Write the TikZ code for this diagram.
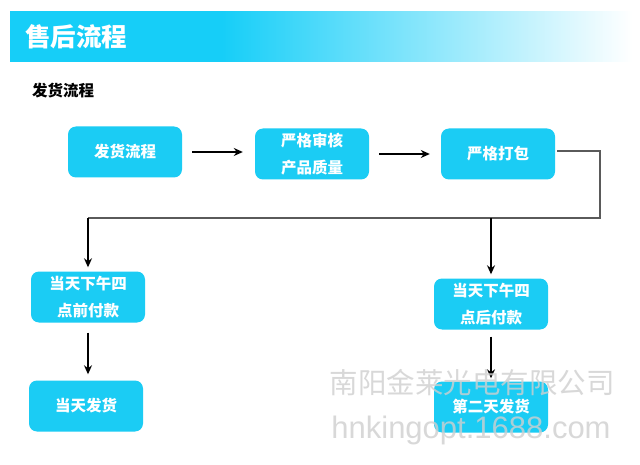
\documentclass[tikz,border=0pt]{standalone}
\usepackage{fontspec}
\setmainfont{Liberation Sans}
\newfontfamily\cjk{Noto Sans CJK SC}
\usetikzlibrary{arrows.meta}
\definecolor{boxcyan}{RGB}{27,204,244}
\definecolor{bancyan}{RGB}{22,206,248}
\definecolor{connline}{RGB}{90,90,90}
\pgfdeclarehorizontalshading{banshade}{100bp}{color(0bp)=(bancyan); color(25bp)=(bancyan); color(42bp)=(bancyan); color(75bp)=(white); color(100bp)=(white)}
\tikzset{
  fbox/.style={fill=boxcyan, rounded corners=8pt, minimum width=114pt, minimum height=51pt,
    inner sep=0pt, text=white, align=center, font=\cjk\bfseries\fontsize{15.5}{27}\selectfont},
  conn/.style={draw=connline, line width=1.2pt},
  arr/.style={draw=black, line width=1.4pt, -{Stealth[length=9pt,width=8pt]}},
  wmark/.style={text=gray!38, opacity=0.8, inner sep=0pt}
}
\begin{document}
\begin{tikzpicture}[x=1pt,y=-1pt]
\useasboundingbox (0,0) rectangle (640,465);
\fill[white] (0,0) rectangle (640,465);
% banner
\path[shading=banshade] (10,12) rectangle (632,62);
\node[anchor=west, text=white, inner sep=0pt, font=\cjk\bfseries\fontsize{25.5}{25}\selectfont] (title) at (25,37) {售后流程};
\node[anchor=west, text=black, inner sep=0pt, font=\cjk\bfseries\fontsize{15.5}{15}\selectfont] (sub) at (32,91) {发货流程};
% boxes
\node[fbox] (b1) at (125,152) {发货流程};
\node[fbox] (b2) at (312,154) {严格审核\\产品质量};
\node[fbox] (b3) at (498,154) {严格打包};
\node[fbox] (b4) at (88,297) {当天下午四\\点前付款};
\node[fbox] (b5) at (86,406) {当天发货};
\node[fbox] (b6) at (491,304) {当天下午四\\点后付款};
\node[fbox] (b7) at (491,407) {第二天发货};
% connectors
\draw[arr, shorten <=10pt, shorten >=12pt] (b1.east) -- (b1.east -| b2.west);
\draw[arr, shorten <=10pt, shorten >=11pt] (b2.east) -- (b2.east -| b3.west);
\coordinate (c1) at (600,151);
\coordinate (c2) at (600,218);
\coordinate (c3) at (88,218);
\coordinate (c4) at (491,218);
\draw[conn, shorten <=2pt] (b3.east |- c1) -- (c1) -- (c2) -- (c3);
\draw[arr, shorten >=4pt] (c3) -- (b4.north);
\draw[arr, shorten >=4pt] (c4) -- (b6.north);
\draw[arr, shorten <=10pt, shorten >=6pt] (b4.south) -- (b4.south |- b5.north);
\draw[arr, shorten <=7pt, shorten >=3pt] (b6.south) -- (b7.north);
% watermark
\node[wmark, font=\cjk\fontsize{28.5}{28}\selectfont] (wm1) at (472,383) {南阳金莱光电有限公司};
\node[wmark, font=\fontsize{31}{31}\selectfont] (wm2) at (471,430) {hnkingopt.1688.com};
\end{tikzpicture}
\end{document}
